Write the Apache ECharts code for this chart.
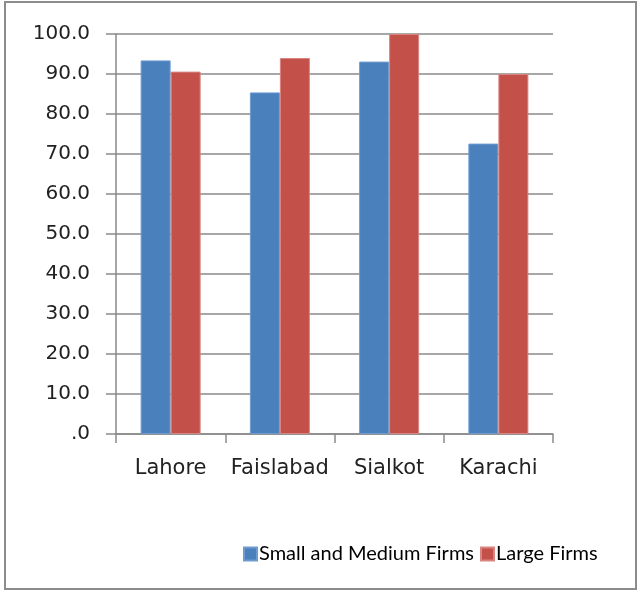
<!DOCTYPE html>
<html>
<head>
<meta charset="utf-8">
<script src="https://cdn.jsdelivr.net/npm/echarts@6/dist/echarts.min.js"></script>
<style>
  html, body { margin: 0; padding: 0; background: #fff; }
  #main { width: 640px; height: 592px; }
</style>
</head>
<body>
<div id="main"></div>
<script>
// 城市
var cities = ['Lahore', 'Faislabad', 'Sialkot', 'Karachi']
// 中小企业
var smallMedium = [93.4, 85.4, 93.1, 72.6]
// 大企业
var large = [90.6, 94.0, 100.0, 90.0]
// y轴刻度
var yTicks = [0, 10, 20, 30, 40, 50, 60, 70, 80, 90, 100]

var myChart = echarts.init(document.getElementById('main'))

myChart.setOption({
  animation: false,
  graphic: [{
    type: 'rect',
    shape: { x: 5, y: 2, width: 631, height: 587 },
    style: { fill: 'none', stroke: '#8c8c8c', lineWidth: 2 }
  }],
  legend: {
    top: 539,
    left: 238,
    itemWidth: 13,
    itemHeight: 13,
    itemGap: 6,
    icon: 'rect',
    textStyle: {
      fontFamily: 'Lato',
      fontSize: 20,
      color: '#000',
      padding: [0, 0, 0, -3]
    },
    data: ['Small and Medium Firms', 'Large Firms']
  },
  grid: {
    left: 116,
    right: 87,
    top: 34,
    bottom: 158
  },
  xAxis: {
    type: 'category',
    data: cities,
    axisLine: { lineStyle: { color: '#8a8a8a', width: 1.5 } },
    axisTick: { show: true, length: 9, interval: 0, alignWithLabel: false, lineStyle: { color: '#8a8a8a', width: 1.5 } },
    axisLabel: {
      interval: 0,
      margin: 24,
      fontFamily: 'DejaVu Sans',
      fontSize: 21,
      color: '#222'
    }
  },
  yAxis: {
    type: 'value',
    min: yTicks[0],
    max: yTicks[yTicks.length - 1],
    interval: 10,
    axisLine: { show: true, lineStyle: { color: '#8a8a8a', width: 1.5 } },
    axisTick: { show: true, inside: false, length: 10, lineStyle: { color: '#8a8a8a', width: 1.5 } },
    splitLine: { lineStyle: { color: '#8a8a8a', width: 1.5 } },
    axisLabel: {
      margin: 26,
      fontFamily: 'DejaVu Sans',
      fontSize: 20,
      color: '#222',
      formatter: function (v) {
        return v === 0 ? '.0' : v.toFixed(1)
      }
    }
  },
  series: [
    {
      name: 'Small and Medium Firms',
      type: 'bar',
      barWidth: 30,
      barGap: 0,
      data: smallMedium,
      itemStyle: { color: '#4a81bd', borderColor: '#6f9bd0', borderWidth: 1 }
    },
    {
      name: 'Large Firms',
      type: 'bar',
      barWidth: 30,
      barGap: 0,
      data: large,
      itemStyle: { color: '#c4504a', borderColor: '#d98581', borderWidth: 1 }
    }
  ]
})
</script>
</body>
</html>
